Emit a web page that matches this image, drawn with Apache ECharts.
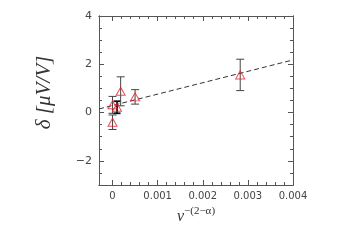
<!DOCTYPE html>
<html><head><meta charset="utf-8">
<script src="https://cdn.jsdelivr.net/npm/echarts@6/dist/echarts.min.js"></script>
<style>html,body{margin:0;padding:0;background:#fff}#c{width:346px;height:245px}</style>
</head><body><div id="c"></div>
<script>
// data
const xVals = [0, 0.0001, 0, 0.00018, 0.0005, 0.00283];
const yVals = [0.32, 0.22, -0.4, 0.88, 0.65, 1.56];
const yErrs = [0.35, 0.25, 0.3, 0.6, 0.3, 0.65];
const barStyles = ['gray', 'black', 'gray', 'gray', 'gray', 'gray'];
const fitX = [-0.0003, 0.004];
const fitY = [0.15, 2.18];
const xTickLabels = [0, 0.001, 0.002, 0.003, 0.004];
const yTickLabels = [-2, 0, 2, 4];

const xMin = -0.0003, xMax = 0.004, yMin = -3, yMax = 4;
const xMinor = [];
for (let i = 0; i <= 20; i++) { const v = +(i * 0.0002).toFixed(5); if (v <= xMax) xMinor.push(v); }
const yMinor = [];
for (let v = -3; v <= 4; v += 0.5) yMinor.push(v);

const axisCol = '#555';
const grid = { left: 99, top: 16, width: 194, height: 169 };

function xAx(pos, tickVals, len, opts) {
  return Object.assign({
    type: 'value', min: xMin, max: xMax, position: pos, gridIndex: 0,
    axisLine: { show: true, onZero: false, lineStyle: { color: axisCol, width: 1 } },
    axisTick: { show: true, inside: true, length: len, customValues: tickVals, lineStyle: { color: axisCol } },
    axisLabel: { show: false },
    splitLine: { show: false }
  }, opts || {});
}
function yAx(pos, tickVals, len, opts) {
  return Object.assign({
    type: 'value', min: yMin, max: yMax, position: pos, gridIndex: 0,
    axisLine: { show: true, onZero: false, lineStyle: { color: axisCol, width: 1 } },
    axisTick: { show: true, inside: true, length: len, customValues: tickVals, lineStyle: { color: axisCol } },
    axisLabel: { show: false },
    splitLine: { show: false }
  }, opts || {});
}

const option = {
  animation: false,
  grid: grid,
  xAxis: [
    xAx('bottom', xTickLabels, 5, {
      axisLabel: { show: true, customValues: xTickLabels, color: '#444', fontSize: 10, fontFamily: 'DejaVu Sans', margin: 6,
        formatter: v => v === 0 ? '0' : String(v) },
      name: '{n|ν}{s|−(2−α)}', nameLocation: 'middle', nameGap: 19,
      nameTextStyle: { rich: {
        n: { fontFamily: 'Liberation Serif', fontStyle: 'italic', fontSize: 16, color: '#333', verticalAlign: 'bottom' },
        s: { fontFamily: 'Liberation Serif', fontSize: 11, color: '#333', verticalAlign: 'top', padding: [0,0,8,0] } } }
    }),
    xAx('bottom', xMinor, 3),
    xAx('top', xTickLabels, 5),
    xAx('top', xMinor, 3)
  ],
  yAxis: [
    yAx('left', yTickLabels, 5, {
      axisLabel: { show: true, customValues: yTickLabels, color: '#444', fontSize: 11, fontFamily: 'DejaVu Sans', margin: 7,
        formatter: v => v < 0 ? '−' + Math.abs(v) : String(v) },
      name: 'δ [μV/V]', nameLocation: 'middle', nameRotate: 90, nameGap: 44,
      nameTextStyle: { fontFamily: 'Liberation Serif', fontStyle: 'italic', fontSize: 21, color: '#333', padding: [0, 0, 0, 16] }
    }),
    yAx('left', yMinor, 3),
    yAx('right', yTickLabels, 5),
    yAx('right', yMinor, 3)
  ],
  series: [
    {
      type: 'line', xAxisIndex: 0, yAxisIndex: 0,
      data: fitX.map((x, i) => [x, fitY[i]]),
      symbol: 'none', silent: true,
      lineStyle: { color: '#333', width: 1, type: [5, 3] }, z: 2
    },
    {
      type: 'custom', xAxisIndex: 0, yAxisIndex: 0,
      data: xVals.map((x, i) => [x, yVals[i] - yErrs[i], yVals[i] + yErrs[i], i]),
      renderItem: function (params, api) {
        const x = api.value(0), lo = api.value(1), hi = api.value(2), idx = api.value(3);
        const p1 = api.coord([x, lo]), p2 = api.coord([x, hi]);
        const black = barStyles[idx] === 'black';
        const col = black ? '#111' : '#444';
        const w = black ? 1.8 : 1;
        const cw = black ? 3.5 : 4;
        return { type: 'group', children: [
          { type: 'line', shape: { x1: p1[0], y1: p1[1], x2: p2[0], y2: p2[1] }, style: { stroke: col, lineWidth: w } },
          { type: 'line', shape: { x1: p1[0] - cw, y1: p1[1], x2: p1[0] + cw, y2: p1[1] }, style: { stroke: col, lineWidth: w } },
          { type: 'line', shape: { x1: p2[0] - cw, y1: p2[1], x2: p2[0] + cw, y2: p2[1] }, style: { stroke: col, lineWidth: w } }
        ]};
      },
      z: 3
    },
    {
      type: 'scatter', xAxisIndex: 0, yAxisIndex: 0,
      data: xVals.map((x, i) => [x, yVals[i]]),
      symbol: 'triangle', symbolSize: [9, 8],
      itemStyle: { color: 'rgba(255,255,255,0)', borderColor: '#e8202a', borderWidth: 1 },
      z: 4
    }
  ]
};
const chart = echarts.init(document.getElementById('c'), null, { renderer: 'canvas' });
chart.setOption(option);
</script></body></html>
